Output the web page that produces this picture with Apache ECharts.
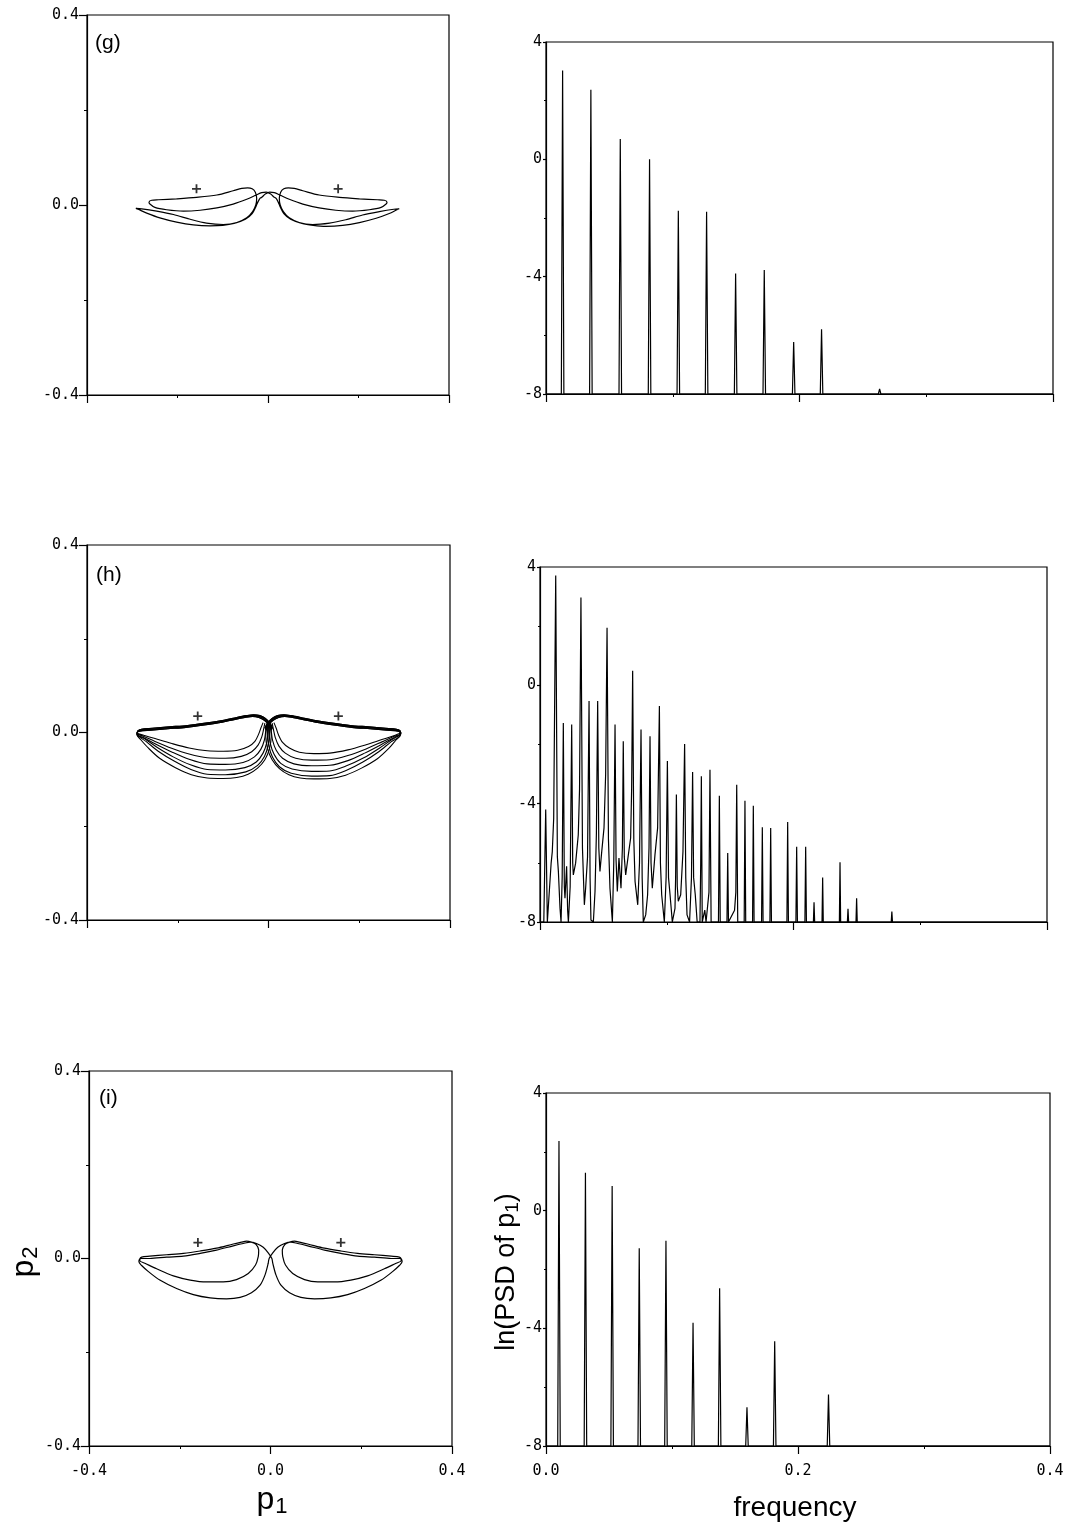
<!DOCTYPE html>
<html><head><meta charset="utf-8">
<script src="https://cdn.jsdelivr.net/npm/echarts@6/dist/echarts.min.js"></script>
<style>html,body{margin:0;padding:0;background:#fff}#c{width:1073px;height:1528px}</style>
</head><body><div id="c"></div>
<script>
// ---------- Phase portrait (g): half-orbits [p1, p2] ----------
const gLeft = [[-0.018,0.014],[-0.023,0.005],[-0.027,-0.004],[-0.035,-0.018],[-0.050,-0.030],[-0.075,-0.039],[-0.100,-0.043],[-0.128,-0.044],[-0.165,-0.042],[-0.202,-0.036],[-0.239,-0.027],[-0.268,-0.017],[-0.287,-0.009],[-0.292,-0.007],
 [-0.279,-0.008],[-0.246,-0.013],[-0.209,-0.020],[-0.172,-0.030],[-0.136,-0.038],[-0.099,-0.041],[-0.069,-0.037],[-0.047,-0.027],[-0.034,-0.014],[-0.027,0.000],[-0.025,0.014],[-0.028,0.027],[-0.035,0.034],[-0.045,0.036],
 [-0.058,0.035],[-0.077,0.030],[-0.113,0.021],[-0.158,0.016],[-0.202,0.013],[-0.242,0.011],[-0.257,0.010],[-0.263,0.006],[-0.261,0.002],
 [-0.250,-0.005],[-0.224,-0.010],[-0.187,-0.013],[-0.150,-0.011],[-0.113,-0.006],[-0.077,0.002],[-0.047,0.012],[-0.026,0.021],[-0.014,0.026],[-0.004,0.027],[0.006,0.023],[0.013,0.017]];
const gRight = [[0.018,0.014],[0.023,0.005],[0.027,-0.004],[0.035,-0.018],[0.050,-0.030],[0.075,-0.039],[0.100,-0.043],[0.128,-0.045],[0.165,-0.043],[0.202,-0.037],[0.239,-0.028],[0.268,-0.018],[0.285,-0.010],[0.290,-0.008],
 [0.278,-0.009],[0.246,-0.014],[0.209,-0.021],[0.172,-0.031],[0.136,-0.038],[0.099,-0.041],[0.069,-0.037],[0.047,-0.027],[0.034,-0.014],[0.027,0.000],[0.025,0.014],[0.028,0.027],[0.035,0.034],[0.045,0.036],
 [0.058,0.035],[0.077,0.030],[0.113,0.021],[0.158,0.016],[0.202,0.013],[0.242,0.011],[0.257,0.010],[0.263,0.006],[0.261,0.002],
 [0.250,-0.005],[0.224,-0.010],[0.187,-0.013],[0.150,-0.011],[0.113,-0.006],[0.077,0.002],[0.047,0.012],[0.026,0.021],[0.014,0.026],[0.004,0.027],[-0.006,0.023],[-0.013,0.017]];
const gPlus = [[-0.158,0.034],[0.155,0.034]];

// ---------- Phase portrait (h): bellies and top edges ----------
const hBL1 = [[-0.012,0.021],[-0.017,0.009],[-0.022,-0.004],[-0.030,-0.019],[-0.044,-0.030],[-0.068,-0.038],[-0.100,-0.040],[-0.135,-0.039],[-0.175,-0.033],[-0.215,-0.023],[-0.250,-0.013],[-0.275,-0.006],[-0.288,-0.002]];
const hBL2 = [[-0.008,0.020],[-0.011,0.006],[-0.015,-0.010],[-0.023,-0.027],[-0.037,-0.041],[-0.060,-0.051],[-0.095,-0.055],[-0.135,-0.054],[-0.175,-0.046],[-0.215,-0.033],[-0.250,-0.019],[-0.276,-0.008],[-0.289,-0.003]];
const hBL3 = [[-0.004,0.019],[-0.006,0.004],[-0.009,-0.016],[-0.017,-0.036],[-0.031,-0.052],[-0.056,-0.064],[-0.095,-0.068],[-0.135,-0.067],[-0.175,-0.057],[-0.212,-0.042],[-0.248,-0.025],[-0.275,-0.011],[-0.289,-0.004]];
const hBL4 = [[0.000,0.018],[-0.001,0.001],[-0.004,-0.022],[-0.012,-0.044],[-0.027,-0.063],[-0.052,-0.075],[-0.095,-0.080],[-0.135,-0.079],[-0.172,-0.069],[-0.210,-0.052],[-0.245,-0.032],[-0.272,-0.014],[-0.289,-0.005]];
const hBL5 = [[0.002,0.016],[0.002,-0.002],[-0.001,-0.028],[-0.009,-0.051],[-0.024,-0.070],[-0.050,-0.084],[-0.095,-0.090],[-0.135,-0.089],[-0.171,-0.079],[-0.208,-0.061],[-0.243,-0.040],[-0.270,-0.019],[-0.289,-0.006]];
const hBL6 = [[0.004,0.014],[0.006,-0.008],[0.002,-0.035],[-0.008,-0.058],[-0.024,-0.076],[-0.045,-0.089],[-0.070,-0.096],[-0.100,-0.098],[-0.135,-0.097],[-0.170,-0.090],[-0.205,-0.075],[-0.240,-0.055],[-0.265,-0.033],[-0.281,-0.016],[-0.290,-0.005]];
const hBR1 = [[0.012,0.021],[0.017,0.009],[0.022,-0.005],[0.031,-0.021],[0.046,-0.033],[0.068,-0.042],[0.100,-0.045],[0.135,-0.044],[0.175,-0.037],[0.215,-0.026],[0.250,-0.015],[0.276,-0.007],[0.289,-0.002]];
const hBR2 = [[0.008,0.020],[0.011,0.006],[0.015,-0.011],[0.023,-0.029],[0.037,-0.044],[0.060,-0.055],[0.095,-0.059],[0.135,-0.058],[0.175,-0.049],[0.215,-0.035],[0.250,-0.020],[0.277,-0.008],[0.290,-0.003]];
const hBR3 = [[0.004,0.019],[0.006,0.004],[0.009,-0.017],[0.017,-0.038],[0.031,-0.055],[0.056,-0.067],[0.095,-0.071],[0.135,-0.070],[0.175,-0.060],[0.212,-0.044],[0.248,-0.026],[0.276,-0.011],[0.290,-0.004]];
const hBR4 = [[0.000,0.018],[0.001,0.001],[0.004,-0.023],[0.012,-0.046],[0.027,-0.066],[0.052,-0.078],[0.095,-0.083],[0.135,-0.082],[0.172,-0.071],[0.210,-0.054],[0.245,-0.033],[0.272,-0.015],[0.290,-0.005]];
const hBR5 = [[-0.002,0.016],[-0.002,-0.002],[0.001,-0.029],[0.009,-0.053],[0.024,-0.073],[0.050,-0.087],[0.095,-0.093],[0.135,-0.092],[0.171,-0.081],[0.208,-0.063],[0.243,-0.041],[0.270,-0.020],[0.290,-0.006]];
const hBR6 = [[-0.004,0.014],[-0.006,-0.008],[-0.002,-0.035],[0.008,-0.058],[0.024,-0.077],[0.045,-0.090],[0.070,-0.097],[0.100,-0.099],[0.135,-0.098],[0.170,-0.091],[0.205,-0.076],[0.240,-0.056],[0.265,-0.034],[0.281,-0.016],[0.291,-0.005]];
const hTLa = [[-0.289,0.001],[-0.282,0.005],[-0.258,0.007],[-0.220,0.010],[-0.180,0.013],[-0.140,0.018],[-0.100,0.024],[-0.072,0.030],[-0.050,0.034],[-0.034,0.036],[-0.020,0.034],[-0.008,0.028],[0.002,0.018],[0.008,0.007]];
const hTLb = [[-0.290,-0.001],[-0.284,0.003],[-0.260,0.005],[-0.222,0.008],[-0.182,0.011],[-0.142,0.016],[-0.102,0.022],[-0.074,0.028],[-0.052,0.032],[-0.035,0.034],[-0.021,0.032],[-0.009,0.026],[0.001,0.016],[0.007,0.005]];
const hTLc = [[-0.288,0.003],[-0.280,0.007],[-0.256,0.009],[-0.218,0.012],[-0.178,0.015],[-0.138,0.020],[-0.098,0.026],[-0.070,0.032],[-0.049,0.036],[-0.033,0.038],[-0.019,0.036],[-0.007,0.030],[0.003,0.020],[0.009,0.009]];
const hTRa = [[0.291,0.001],[0.284,0.005],[0.260,0.007],[0.222,0.010],[0.182,0.013],[0.142,0.018],[0.102,0.024],[0.073,0.030],[0.051,0.034],[0.035,0.036],[0.021,0.034],[0.009,0.028],[-0.001,0.018],[-0.007,0.007]];
const hTRb = [[0.292,-0.001],[0.286,0.003],[0.262,0.005],[0.224,0.008],[0.184,0.011],[0.144,0.016],[0.104,0.022],[0.075,0.028],[0.053,0.032],[0.036,0.034],[0.022,0.032],[0.010,0.026],[0.000,0.016],[-0.006,0.005]];
const hTRc = [[0.290,0.003],[0.282,0.007],[0.258,0.009],[0.220,0.012],[0.180,0.015],[0.140,0.020],[0.100,0.026],[0.071,0.032],[0.050,0.036],[0.034,0.038],[0.020,0.036],[0.008,0.030],[-0.002,0.020],[-0.008,0.009]];
const hPlus = [[-0.156,0.035],[0.154,0.035]];

// ---------- Phase portrait (i) ----------
const iLeft = [[-0.005,-0.010],[-0.012,-0.035],[-0.023,-0.057],[-0.042,-0.073],[-0.067,-0.083],[-0.097,-0.086],[-0.133,-0.084],[-0.170,-0.077],[-0.207,-0.064],[-0.244,-0.046],[-0.269,-0.028],[-0.284,-0.015],[-0.290,-0.007],[-0.289,-0.002],
 [-0.284,0.003],[-0.266,0.005],[-0.229,0.008],[-0.192,0.011],[-0.155,0.016],[-0.119,0.022],[-0.082,0.031],[-0.064,0.035],[-0.053,0.037],[-0.042,0.035],
 [-0.032,0.030],[-0.026,0.018],[-0.027,0.004],[-0.033,-0.014],[-0.049,-0.032],[-0.075,-0.045],[-0.104,-0.050],[-0.141,-0.050],[-0.177,-0.046],[-0.214,-0.037],[-0.251,-0.022],[-0.277,-0.010],[-0.288,-0.005],[-0.286,0.000],
 [-0.266,0.000],[-0.229,0.003],[-0.192,0.005],[-0.155,0.011],[-0.119,0.018],[-0.082,0.027],[-0.060,0.032],[-0.045,0.035],[-0.031,0.032],[-0.016,0.024],[-0.005,0.012],[0.003,0.000]];
const iRight = [[0.005,-0.010],[0.012,-0.035],[0.023,-0.057],[0.042,-0.073],[0.067,-0.083],[0.097,-0.086],[0.133,-0.084],[0.170,-0.077],[0.207,-0.064],[0.244,-0.046],[0.269,-0.028],[0.284,-0.015],[0.290,-0.007],[0.289,-0.002],
 [0.284,0.003],[0.266,0.005],[0.229,0.008],[0.192,0.011],[0.155,0.016],[0.119,0.022],[0.082,0.031],[0.064,0.035],[0.053,0.037],[0.042,0.035],
 [0.032,0.030],[0.026,0.018],[0.027,0.004],[0.033,-0.014],[0.049,-0.032],[0.075,-0.045],[0.104,-0.050],[0.141,-0.050],[0.177,-0.046],[0.214,-0.037],[0.251,-0.022],[0.277,-0.010],[0.288,-0.005],[0.286,0.000],
 [0.266,0.000],[0.229,0.003],[0.192,0.005],[0.155,0.011],[0.119,0.018],[0.082,0.027],[0.060,0.032],[0.045,0.035],[0.031,0.032],[0.016,0.024],[0.005,0.012],[-0.003,0.000]];
const iPlus = [[-0.160,0.034],[0.155,0.034]];

// ---------- Spectra: [frequency, ln(PSD of p1)] ----------
const gPeaks = [[0.0131,3.03],[0.0354,2.37],[0.0586,0.69],[0.0817,0.00],[0.1044,-1.75],[0.1267,-1.79],[0.1496,-3.89],[0.1722,-3.77],[0.1954,-6.23],[0.2174,-5.79],[0.2632,-7.83]];
const iPeaks = [[0.0103,2.37],[0.0313,1.29],[0.0525,0.84],[0.0740,-1.28],[0.0952,-1.02],[0.1167,-3.81],[0.1378,-2.64],[0.1595,-6.68],[0.1815,-4.44],[0.2242,-6.25]];
const hSpectrum = [[0.000,-8],[0.0030,-8],[0.0045,-4.20],[0.0058,-8],[0.0071,-8],[0.0088,-6.0],[0.0097,-5.62],[0.0108,-4.5],[0.0124,3.71],[0.0137,-5.8],[0.0145,-6.29],[0.0158,-7.54],[0.0166,-8.0],[0.0175,-6.5],[0.0184,-1.27],[0.0192,-6.8],[0.0197,-7.20],[0.0210,-6.12],[0.0218,-7.6],[0.0224,-8.0],[0.0238,-6.8],[0.0250,-1.32],[0.0258,-6.0],[0.0263,-6.41],[0.0281,-6.01],[0.0302,-5.05],[0.0312,-3.5],[0.0323,2.97],[0.0335,-5.5],[0.0350,-7.42],[0.0360,-6.86],[0.0375,-5.8],[0.0387,-0.53],[0.0395,-6.5],[0.0402,-7.93],[0.0421,-8.0],[0.0434,-6.97],[0.0445,-5.0],[0.0455,-0.53],[0.0464,-5.5],[0.0473,-6.29],[0.0487,-5.62],[0.0505,-4.82],[0.0518,-3.0],[0.0529,1.95],[0.0540,-5.2],[0.0552,-6.86],[0.0571,-8.0],[0.0582,-6.0],[0.0592,-1.32],[0.0600,-5.9],[0.0610,-6.97],[0.0623,-5.84],[0.0639,-6.86],[0.0650,-5.5],[0.0657,-1.89],[0.0665,-5.8],[0.0676,-6.41],[0.0697,-5.73],[0.0715,-5.16],[0.0723,-3.5],[0.0731,0.49],[0.0740,-5.2],[0.0750,-6.63],[0.0771,-7.42],[0.0785,-6.0],[0.0797,-1.49],[0.0806,-6.5],[0.0815,-8.0],[0.0834,-7.76],[0.0849,-7.08],[0.0860,-5.5],[0.0868,-1.72],[0.0876,-6.0],[0.0886,-6.86],[0.0907,-5.73],[0.0928,-4.82],[0.0942,-0.70],[0.0950,-6.0],[0.0960,-7.08],[0.0981,-8.0],[0.0995,-6.5],[0.1005,-2.56],[0.1014,-6.5],[0.1026,-7.08],[0.1044,-8.0],[0.1065,-7.54],[0.1070,-6.5],[0.1076,-3.69],[0.1083,-6.8],[0.1091,-7.3],[0.1110,-7.08],[0.1128,-5.62],[0.1141,-1.98],[0.1150,-6.5],[0.1160,-7.76],[0.1180,-8.0],[0.1195,-6.5],[0.1204,-2.93],[0.1212,-6.5],[0.1225,-7.08],[0.1240,-8.0],[0.1262,-8.0],[0.1268,-6.0],[0.1273,-3.07],[0.1280,-8.0],[0.1300,-7.6],[0.1310,-8.0],[0.1333,-7.0],[0.1341,-2.85],[0.1350,-8.0],[0.1408,-8.0],[0.1415,-3.73],[0.1422,-8.0],[0.1475,-8.0],[0.1481,-5.67],[0.1487,-8.0],[0.1535,-7.6],[0.1545,-7.0],[0.1552,-3.36],[0.1560,-8.0],[0.1611,-8.0],[0.1617,-3.90],[0.1623,-8.0],[0.1677,-8.0],[0.1683,-4.07],[0.1689,-8.0],[0.1748,-8.0],[0.1754,-4.80],[0.1760,-8.0],[0.1814,-8.0],[0.1820,-4.82],[0.1826,-8.0],[0.1948,-8.0],[0.1954,-4.62],[0.1960,-8.0],[0.2019,-8.0],[0.2025,-5.46],[0.2031,-8.0],[0.2090,-8.0],[0.2096,-5.46],[0.2102,-8.0],[0.2157,-8.0],[0.2162,-7.33],[0.2167,-8.0],[0.2225,-8.0],[0.2230,-6.50],[0.2235,-8.0],[0.2362,-8.0],[0.2367,-5.98],[0.2372,-8.0],[0.2425,-8.0],[0.2430,-7.55],[0.2435,-8.0],[0.2493,-8.0],[0.2498,-7.20],[0.2503,-8.0],[0.2771,-8.0],[0.2776,-7.65],[0.2781,-8.0],[0.400,-8.0]];

const psdFloor = -8;
const panelLabels = ['(g)','(h)','(i)'];

// ---------- helpers ----------
const MONO = 'DejaVu Sans Mono';
const SANS = 'Liberation Sans';
function spikes(peaks){
  const w = 0.0010, out = [[0, psdFloor]];
  peaks.forEach(p => { out.push([p[0]-w, psdFloor], [p[0], p[1]], [p[0]+w, psdFloor]); });
  out.push([0.4, psdFloor]);
  return out;
}
function fmt1(v){ return Math.abs(v) < 1e-9 ? '0.0' : v.toFixed(1); }
const axLine = {show:true, onZero:false, lineStyle:{color:'#000', width:1.2}};
const tick = {show:true, inside:false, length:8, lineStyle:{color:'#000', width:1.2}};
const minor = {show:true, splitNumber:2, length:3, lineStyle:{color:'#000', width:1}};
const tickShort = {show:true, inside:false, length:3, lineStyle:{color:'#000', width:1.2}};
const minorShort = {show:true, splitNumber:2, length:2, lineStyle:{color:'#000', width:1}};
function phaseX(gi, show){ return {type:'value', gridIndex:gi, min:-0.4, max:0.4, interval:0.4, axisLine:axLine, axisTick:tick, minorTick:minor, splitLine:{show:false},
  axisLabel:{show:show, formatter:fmt1, fontFamily:MONO, fontSize:15, color:'#000', margin:18}}; }
function phaseY(gi){ return {type:'value', gridIndex:gi, min:-0.4, max:0.4, interval:0.4, axisLine:axLine, axisTick:tick, minorTick:minor, splitLine:{show:false},
  axisLabel:{show:true, formatter:fmt1, fontFamily:MONO, fontSize:15, color:'#000', margin:8}}; }
function psdX(gi, show){ return {type:'value', gridIndex:gi, min:0, max:0.4, interval:0.2, axisLine:axLine, axisTick:tick, minorTick:minor, splitLine:{show:false},
  axisLabel:{show:show, formatter:fmt1, fontFamily:MONO, fontSize:15, color:'#000', margin:18}}; }
function psdY(gi){ return {type:'value', gridIndex:gi, min:-8, max:4, interval:4, axisLine:axLine, axisTick:tickShort, minorTick:minorShort, splitLine:{show:false},
  axisLabel:{show:true, formatter:v=>String(v), fontFamily:MONO, fontSize:15, color:'#000', margin:4}}; }
function gridBox(l,t,w,h){ return {left:l, top:t, width:w, height:h, show:true, borderColor:'#000', borderWidth:1.2, backgroundColor:'transparent'}; }
function curve(gi, data, width){ return {type:'line', xAxisIndex:gi, yAxisIndex:gi, data:data, symbol:'none', showSymbol:false, smooth:0.3,
  lineStyle:{color:'#000', width:width||1.2}, silent:true, animation:false}; }
function spec(gi, data){ return {type:'line', xAxisIndex:gi, yAxisIndex:gi, data:data, symbol:'none', showSymbol:false, smooth:false,
  lineStyle:{color:'#000', width:1.2}, silent:true, animation:false}; }
const PLUS = 'path://M4,0H6V4H10V6H6V10H4V6H0V4H4Z';
function plus(gi, data){ return {type:'scatter', xAxisIndex:gi, yAxisIndex:gi, data:data, symbol:PLUS, symbolSize:9, itemStyle:{color:'#000'}, silent:true, animation:false}; }

const series = [];
series.push(curve(0, gLeft.concat(gRight, [gLeft[0]]), 1.2));
series.push(plus(0, gPlus));
series.push(spec(1, spikes(gPeaks)));
const hBL = [hBL1,hBL2,hBL3,hBL4,hBL5,hBL6], hBR = [hBR1,hBR2,hBR3,hBR4,hBR5,hBR6];
const hTL = [hTLa,hTLb,hTLc], hTR = [hTRa,hTRb,hTRc];
for (let k = 0; k < 6; k++) {
  series.push(curve(2, hBL[k].concat(hTL[k%3]), 1.1));
  series.push(curve(2, hBR[k].concat(hTR[(k+1)%3]), 1.1));
}
series.push(plus(2, hPlus));
series.push(spec(3, hSpectrum));
series.push(curve(4, iLeft.concat(iRight, [iLeft[0]]), 1.2));
series.push(plus(4, iPlus));
series.push(spec(5, spikes(iPeaks)));

const option = {
  animation:false,
  backgroundColor:'#fff',
  grid:[gridBox(87,15,362,380), gridBox(546,42,507,352), gridBox(87,545,363,375), gridBox(540,567,507,355), gridBox(89,1071,363,375), gridBox(546,1093,504,353)],
  xAxis:[phaseX(0,false), psdX(1,false), phaseX(2,false), psdX(3,false), phaseX(4,true), psdX(5,true)],
  yAxis:[phaseY(0), psdY(1), phaseY(2), psdY(3), phaseY(4), psdY(5)],
  series:series,
  graphic:[
    {type:'text', x:95, y:43, style:{text:panelLabels[0], font:'21px "Liberation Sans"', fill:'#000', align:'left', verticalAlign:'middle'}},
    {type:'text', x:96, y:575, style:{text:panelLabels[1], font:'21px "Liberation Sans"', fill:'#000', align:'left', verticalAlign:'middle'}},
    {type:'text', x:99, y:1098, style:{text:panelLabels[2], font:'21px "Liberation Sans"', fill:'#000', align:'left', verticalAlign:'middle'}},
    {type:'text', x:272, y:1500, style:{text:'{a|p}{s|1}', align:'center', verticalAlign:'middle', fill:'#000',
      rich:{a:{fontSize:32, fontFamily:SANS, fill:'#000'}, s:{fontSize:22, fontFamily:SANS, fill:'#000', padding:[14,0,0,1]}}}},
    {type:'text', x:24, y:1262, rotation:Math.PI/2, style:{text:'{a|p}{s|2}', align:'center', verticalAlign:'middle', fill:'#000',
      rich:{a:{fontSize:32, fontFamily:SANS, fill:'#000'}, s:{fontSize:22, fontFamily:SANS, fill:'#000', padding:[14,0,0,1]}}}},
    {type:'text', x:795, y:1508, style:{text:'frequency', font:'28px "Liberation Sans"', fill:'#000', align:'center', verticalAlign:'middle'}},
    {type:'text', x:507, y:1272, rotation:Math.PI/2, style:{text:'{a|ln(PSD of p}{s|1}{a|)}', align:'center', verticalAlign:'middle', fill:'#000',
      rich:{a:{fontSize:27, fontFamily:SANS, fill:'#000'}, s:{fontSize:19, fontFamily:SANS, fill:'#000', padding:[11,0,0,0]}}}}
  ]
};
const chart = echarts.init(document.getElementById('c'));
chart.setOption(option);
</script></body></html>
